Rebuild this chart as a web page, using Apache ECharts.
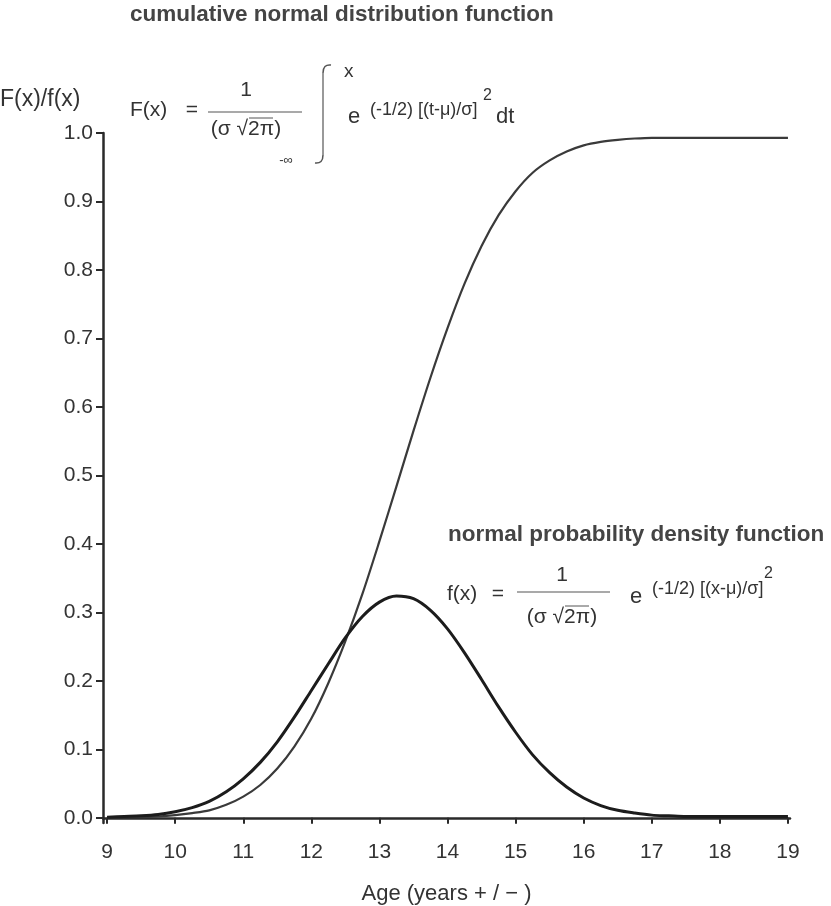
<!DOCTYPE html>
<html>
<head>
<meta charset="utf-8">
<script src="https://cdn.jsdelivr.net/npm/echarts@6/dist/echarts.min.js"></script>
<style>
  html, body { margin: 0; padding: 0; background: #fff; }
  #chart { width: 831px; height: 906px; }
</style>
</head>
<body>
<div id="chart"></div>
<script>
// ages, every quarter year
var ages = [9, 9.25, 9.5, 9.75, 10, 10.25, 10.5, 10.75, 11, 11.25, 11.5, 11.75,
  12, 12.25, 12.5, 12.75, 13, 13.25, 13.5, 13.75, 14, 14.25, 14.5, 14.75,
  15, 15.25, 15.5, 15.75, 16, 16.25, 16.5, 16.75, 17, 17.25, 17.5, 17.75,
  18, 18.25, 18.5, 18.75, 19];
// cumulative normal distribution F(x)
var cdfValues = [0.001, 0.001, 0.001, 0.002, 0.004, 0.007, 0.011, 0.019, 0.031, 0.048, 0.072, 0.104,
  0.145, 0.197, 0.258, 0.327, 0.404, 0.484, 0.565, 0.643, 0.715, 0.780, 0.835, 0.880,
  0.915, 0.942, 0.960, 0.973, 0.982, 0.987, 0.990, 0.992, 0.993, 0.993, 0.993, 0.993,
  0.993, 0.993, 0.993, 0.993, 0.993];
// normal probability density f(x)
var pdfValues = [0.001, 0.002, 0.003, 0.005, 0.009, 0.015, 0.024, 0.038, 0.057, 0.081, 0.111, 0.147,
  0.186, 0.225, 0.263, 0.294, 0.315, 0.324, 0.320, 0.303, 0.276, 0.241, 0.202, 0.162,
  0.125, 0.092, 0.066, 0.045, 0.029, 0.018, 0.011, 0.007, 0.004, 0.003, 0.002, 0.002,
  0.002, 0.002, 0.002, 0.002, 0.002];
var xTicks = [9, 10, 11, 12, 13, 14, 15, 16, 17, 18, 19];
var yTicks = [0, 0.1, 0.2, 0.3, 0.4, 0.5, 0.6, 0.7, 0.8, 0.9, 1.0];

var chart = echarts.init(document.getElementById('chart'));

var FONT = '"Liberation Sans", Arial, Helvetica, sans-serif';
var INK = '#333';

function pairs(vals) {
  return ages.map(function (a, i) { return [a, vals[i]]; });
}

function txt(x, y, s, size, opts) {
  opts = opts || {};
  return {
    type: 'text', x: x, y: y, silent: true,
    style: {
      text: s, fill: opts.fill || INK,
      font: (opts.weight || 'normal') + ' ' + size + 'px ' + FONT,
      align: opts.align || 'left', verticalAlign: 'middle'
    }
  };
}
function seg(x1, y1, x2, y2, w) {
  return { type: 'line', silent: true, shape: { x1: x1, y1: y1, x2: x2, y2: y2 }, style: { stroke: '#555', lineWidth: w || 1.2 } };
}
function hook(x1, y1, cx, cy, x2, y2) {
  return {
    type: 'bezierCurve', silent: true,
    shape: { x1: x1, y1: y1, cpx1: cx, cpy1: cy, x2: x2, y2: y2 },
    style: { stroke: '#555', lineWidth: 1.5, fill: null }
  };
}

var option = {
  backgroundColor: '#fff',
  animation: false,
  grid: { left: 103, right: 41, top: 133, bottom: 83, containLabel: false, outerBoundsMode: 'none' },
  xAxis: {
    type: 'value',
    min: 8.94, max: 19.03,
    name: 'Age (years + / − )',
    nameLocation: 'middle',
    nameGap: 60,
    nameTextStyle: { fontFamily: FONT, fontSize: 22, color: INK },
    axisLine: { show: true, lineStyle: { color: '#2a2a2a', width: 2.5 } },
    axisTick: { show: true, customValues: xTicks, length: 6, lineStyle: { color: '#2a2a2a', width: 2 } },
    axisLabel: { customValues: xTicks, fontFamily: FONT, fontSize: 21, color: INK, margin: 19 },
    splitLine: { show: false }
  },
  yAxis: {
    type: 'value',
    min: -0.0075, max: 1.0,
    axisLine: { show: true, lineStyle: { color: '#2a2a2a', width: 2.5 } },
    axisTick: { show: true, customValues: yTicks, length: 7, lineStyle: { color: '#2a2a2a', width: 2 } },
    axisLabel: {
      customValues: yTicks, fontFamily: FONT, fontSize: 21, color: INK, margin: 10,
      formatter: function (v) { return v.toFixed(1); }
    },
    splitLine: { show: false }
  },
  series: [
    {
      name: 'F(x)', type: 'line', smooth: 0.3, symbol: 'none',
      lineStyle: { color: '#3a3a3a', width: 2.2 },
      data: pairs(cdfValues)
    },
    {
      name: 'f(x)', type: 'line', smooth: 0.3, symbol: 'none',
      lineStyle: { color: '#1c1c1c', width: 3 },
      data: pairs(pdfValues)
    }
  ],
  graphic: [
    txt(130, 15, 'cumulative normal distribution function', 22.5, { weight: 'bold', fill: '#444' }),
    txt(0, 100, 'F(x)/f(x)', 23),
    // F(x) formula
    txt(130, 110, 'F(x)', 21),
    txt(192, 110, '=', 21, { align: 'center' }),
    txt(246, 90, '1', 21, { align: 'center' }),
    seg(208, 112, 302, 112),
    txt(246, 129, '(σ √2π)', 21, { align: 'center' }),
    seg(249, 118, 273, 118, 1),
    seg(323, 73, 323, 155),
    hook(323, 73, 323, 64, 331, 65),
    hook(323, 155, 323, 164, 315, 163),
    txt(344, 72, 'x', 19),
    txt(286, 160, '-∞', 13, { align: 'center' }),
    txt(348, 117, 'e', 22),
    txt(370, 110, '(-1/2) [(t-μ)/σ]', 18),
    txt(483, 96, '2', 16),
    txt(496, 117, 'dt', 22),
    // f(x) formula
    txt(448, 535, 'normal probability density function', 22.5, { weight: 'bold', fill: '#444' }),
    txt(447, 594, 'f(x)', 21),
    txt(498, 594, '=', 21, { align: 'center' }),
    txt(562, 575, '1', 21, { align: 'center' }),
    seg(517, 592, 610, 592),
    txt(562, 617, '(σ √2π)', 21, { align: 'center' }),
    seg(565, 606, 589, 606, 1),
    txt(630, 597, 'e', 22),
    txt(652, 589, '(-1/2) [(x-μ)/σ]', 18),
    txt(764, 574, '2', 16)
  ]
};

chart.setOption(option);
</script>
</body>
</html>
